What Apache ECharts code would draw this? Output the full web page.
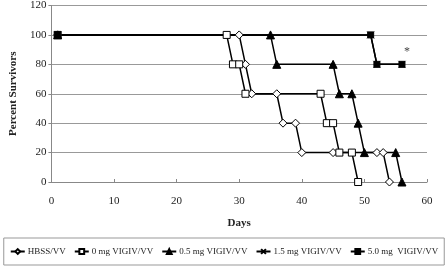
<!DOCTYPE html>
<html>
<head>
<meta charset="utf-8">
<script src="https://cdn.jsdelivr.net/npm/echarts@6/dist/echarts.min.js"></script>
<style>
html,body{margin:0;padding:0;background:#fff;}
#chart{width:448px;height:277px;}
</style>
</head>
<body>
<div id="chart"></div>
<script>
// survival data: [day, percent]
var hbss   = [[1,100],[30,100],[31,80],[32,60],[36,60],[37,40],[39,40],[40,20],[45,20],[52,20],[53,20],[54,0]];
var mg0    = [[1,100],[28,100],[29,80],[30,80],[31,60],[43,60],[44,40],[45,40],[46,20],[48,20],[49,0]];
var mg05   = [[1,100],[35,100],[36,80],[45,80],[46,60],[48,60],[49,40],[50,20],[55,20],[56,0]];
var mg15   = [[1,100],[51,100],[52,80],[56,80]];
var mg50   = [[1,100],[51,100],[52,80],[56,80]];
var names  = ['HBSS/VV','0 mg VIGIV/VV','0.5 mg VIGIV/VV','1.5 mg VIGIV/VV','5.0 mg  VIGIV/VV'];
var xTicks = [0,10,20,30,40,50,60];
var yTicks = [0,20,40,60,80,100,120];

var serif = '"Liberation Serif","DejaVu Serif",serif';
var cross = 'path://M0,0L10,10M10,0L0,10';

var chart = echarts.init(document.getElementById('chart'));

function line(name, data, symbol, size, fill, extra){
    var s = {
        name: name,
        type: 'line',
        data: data,
        symbol: symbol,
        symbolSize: size,
        showAllSymbol: true,
        lineStyle: {color:'#000', width:1.5},
        itemStyle: {color: fill, borderColor:'#000', borderWidth:1},
        animation: false
    };
    if (extra) for (var k in extra) s[k] = extra[k];
    return s;
}

var option = {
    backgroundColor: '#fff',
    grid: {left:38, right:21, top:4, bottom:95, containLabel:false},
    legend: {
        data: names,
        left: 'center', top: 238, width: 440,
        padding: [9, 6, 9, 6],
        borderColor: '#999', borderWidth: 1,
        itemWidth: 14, itemHeight: 6, itemGap: 8,
        textStyle: {fontFamily: serif, fontSize: 9, color:'#222', padding:[0,0,0,-2]}
    },
    xAxis: {
        type: 'value', min: 0, max: 60, interval: 10,
        name: 'Days', nameLocation: 'middle', nameGap: 36,
        nameTextStyle: {fontFamily: serif, fontSize: 11, fontWeight:'bold', color:'#222'},
        axisLine: {lineStyle:{color:'#888'}},
        axisTick: {inside:true, length:3, lineStyle:{color:'#888'}},
        axisLabel: {fontFamily: serif, fontSize: 11, color:'#222', margin: 14,
            formatter: function(v){ return xTicks.indexOf(v) >= 0 ? v : ''; }},
        splitLine: {show:false}
    },
    yAxis: {
        type: 'value', min: 0, max: 120, interval: 20,
        name: 'Percent Survivors', nameLocation: 'middle', nameGap: 26,
        nameTextStyle: {fontFamily: serif, fontSize: 11, fontWeight:'bold', color:'#222'},
        axisLine: {show:true, lineStyle:{color:'#888'}},
        axisTick: {show:true, length:3, lineStyle:{color:'#888'}},
        axisLabel: {fontFamily: serif, fontSize: 11, color:'#222', margin: 5,
            formatter: function(v){ return yTicks.indexOf(v) >= 0 ? v : ''; }},
        splitLine: {lineStyle:{color:'#999', width:1}}
    },
    series: [
        line(names[0], hbss, 'diamond', 8, '#fff'),
        line(names[1], mg0, 'rect', 7, '#fff'),
        line(names[2], mg05, 'triangle', 8, '#000'),
        line(names[3], mg15, cross, 7, '#000', {
            markPoint: {
                symbol: 'circle', symbolSize: 0,
                label: {show:true, formatter:'*', fontFamily: serif, fontSize: 12, color:'#444', offset:[5,-12]},
                data: [{coord:[56,80]}]
            }
        }),
        line(names[4], mg50, 'rect', 6, '#000')
    ]
};
chart.setOption(option);
</script>
</body>
</html>
